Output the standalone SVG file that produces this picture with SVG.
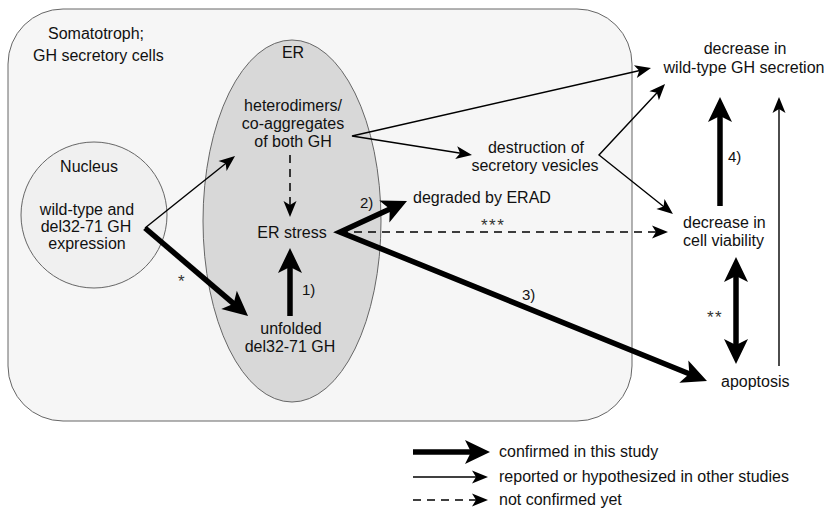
<svg xmlns="http://www.w3.org/2000/svg" width="828" height="509" viewBox="0 0 828 509">
<style>
text{font-family:"Liberation Sans",Arial,sans-serif;font-size:16px;fill:#111}
.c{text-anchor:middle}
.lab{font-size:15px}
.ast{font-size:17px;fill:#333;letter-spacing:1.5px}
.k{stroke:#000;stroke-width:5.5;fill:none;marker-end:url(#hk)}
.n{stroke:#000;stroke-width:1.4;fill:none;marker-end:url(#hn)}
.d{stroke:#000;stroke-width:1.5;fill:none;stroke-dasharray:8 6;marker-end:url(#hn)}
</style>
<defs>
<marker id="hk" markerUnits="userSpaceOnUse" markerWidth="40" markerHeight="40" refX="0" refY="0" orient="auto-start-reverse" viewBox="-20 -20 40 40" overflow="visible"><path d="M14,0 L-11,-12 L-5,0 L-11,12 Z" fill="#000"/></marker>
<marker id="hn" markerUnits="userSpaceOnUse" markerWidth="30" markerHeight="30" refX="0" refY="0" orient="auto-start-reverse" viewBox="-15 -15 30 30" overflow="visible"><path d="M8,0 L-8,-6.5 L-4,0 L-8,6.5 Z" fill="#000"/></marker>
</defs>
<rect width="828" height="509" fill="#fff"/>
<g id="cell">
<rect x="8" y="9" width="624" height="412" rx="55" ry="55" fill="#f6f6f6" stroke="#666" stroke-width="1"/>
<text x="48" y="39">Somatotroph;</text>
<text x="33" y="61">GH secretory cells</text>
</g>
<g id="er">
<ellipse cx="292" cy="221" rx="89" ry="181" fill="#d8d8d8" stroke="#666" stroke-width="1"/>
<text class="c" x="293" y="58">ER</text>
</g>
<g id="nucleus">
<circle cx="94" cy="215" r="73" fill="#f0f0f0" stroke="#666" stroke-width="1"/>
<text class="c" x="89" y="172">Nucleus</text>
<text class="c" x="87" y="215">wild-type and</text>
<text class="c" x="86" y="232">del32-71 GH</text>
<text class="c" x="87" y="249">expression</text>
</g>
<g id="heterodimers">
<text class="c" x="293" y="111">heterodimers/</text>
<text class="c" x="293" y="129">co-aggregates</text>
<text class="c" x="293" y="147">of both GH</text>
</g>
<g id="erstress"><text class="c" x="292" y="238">ER stress</text></g>
<g id="unfolded">
<text class="c" x="291" y="334">unfolded</text>
<text class="c" x="290" y="352">del32-71 GH</text>
</g>
<g id="erad"><text x="413" y="203">degraded by ERAD</text></g>
<g id="destruction">
<text class="c" x="536" y="153">destruction of</text>
<text class="c" x="535" y="171">secretory vesicles</text>
</g>
<g id="secretion">
<text class="c" x="745" y="54">decrease in</text>
<text class="c" x="744" y="73">wild-type GH secretion</text>
</g>
<g id="viability">
<text x="683" y="228">decrease in</text>
<text x="683" y="246">cell viability</text>
</g>
<g id="apoptosis"><text x="721" y="387">apoptosis</text></g>
<g id="connectors">
<line class="n" x1="145" y1="228" x2="228.8" y2="161"/>
<line class="k" x1="145" y1="228" x2="237.4" y2="306.9"/>
<line class="d" x1="290" y1="155" x2="290" y2="209" stroke-dasharray="7 5"/>
<line class="k" x1="290" y1="316" x2="290" y2="262"/>
<path class="k" d="M394.3,206.9 L340,232 L694,375.7" style="marker-start:url(#hk)" stroke-linejoin="miter"/>
<line class="d" x1="340" y1="232" x2="660" y2="232"/>
<path class="n" d="M643.2,69.8 L352,136 L464.1,153.8" style="marker-start:url(#hn)"/>
<path class="n" d="M659.6,89.9 L599,155 L666.7,209" style="marker-start:url(#hn)"/>
<line class="k" x1="720" y1="206" x2="720" y2="111"/>
<line class="n" x1="779" y1="366" x2="779" y2="105"/>
<line class="k" x1="736" y1="350" x2="736" y2="271" style="marker-start:url(#hk)"/>
<text class="ast" x="178" y="287">*</text>
<text class="lab" x="302" y="295">1)</text>
<text class="lab" x="360" y="208">2)</text>
<text class="lab" x="522" y="300">3)</text>
<text class="lab" x="728" y="162">4)</text>
<text class="ast" x="481" y="231">***</text>
<text class="ast" x="707" y="323">**</text>
</g>
<g id="legend">
<line class="k" x1="413" y1="452" x2="476" y2="452"/>
<text x="499" y="457">confirmed in this study</text>
<line class="n" x1="413" y1="477" x2="480" y2="477"/>
<text x="499" y="482">reported or hypothesized in other studies</text>
<line class="d" x1="413" y1="500" x2="480" y2="500" stroke-dasharray="7 5"/>
<text x="499" y="505">not confirmed yet</text>
</g>
</svg>
